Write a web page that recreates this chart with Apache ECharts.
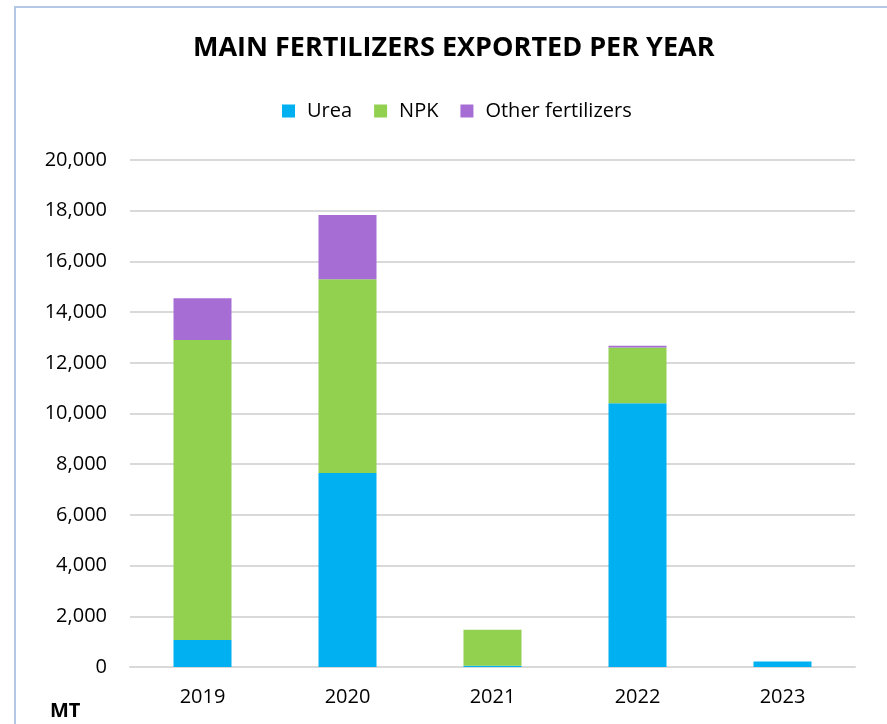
<!DOCTYPE html>
<html>
<head>
<meta charset="utf-8">
<script src="https://cdn.jsdelivr.net/npm/echarts@6/dist/echarts.min.js"></script>
<style>
html,body{margin:0;padding:0;background:#fff;}
#frame{position:absolute;left:14px;top:6px;width:900px;height:740px;border:2px solid #b4c7e7;box-sizing:border-box;}
#chart{position:absolute;left:0;top:0;width:887px;height:724px;}
</style>
</head>
<body>
<div id="frame"></div>
<div id="chart"></div>
<script>
const years = ['2019', '2020', '2021', '2022', '2023'];
const urea = [1070, 7650, 50, 10400, 220];
const npk = [11830, 7650, 1420, 2200, 0];
const other = [1650, 2530, 0, 70, 0];
const yTicks = [0, 2000, 4000, 6000, 8000, 10000, 12000, 14000, 16000, 18000, 20000];

const font = "'Open Sans', 'Noto Sans', sans-serif";
const chart = echarts.init(document.getElementById('chart'));
chart.setOption({
  animation: false,
  title: {
    text: 'MAIN FERTILIZERS EXPORTED PER YEAR',
    left: 188, top: 30,
    textStyle: {fontFamily: font, fontWeight: 'bold', fontSize: 27, color: '#000'}
  },
  legend: {
    top: 96, left: 277,
    itemWidth: 13, itemHeight: 13, itemGap: 22,
    icon: 'rect',
    textStyle: {fontFamily: font, fontSize: 20, color: '#000', padding: [0, 0, 0, 7]},
    data: ['Urea', 'NPK', 'Other fertilizers']
  },
  graphic: [{
    type: 'text', left: 50, top: 701,
    style: {text: 'MT', fontFamily: font, fontWeight: 'bold', fontSize: 20, fill: '#000'}
  }],
  grid: {left: 130, right: 32, top: 160, bottom: 57},
  xAxis: {
    type: 'category', data: years,
    axisLine: {lineStyle: {color: '#d9d9d9', width: 2}},
    axisTick: {show: false},
    axisLabel: {fontFamily: font, fontSize: 20, color: '#000', margin: 20}
  },
  yAxis: {
    type: 'value', min: 0, max: 20000, interval: 2000,
    axisLine: {show: false}, axisTick: {show: false},
    splitLine: {lineStyle: {color: '#d9d9d9', width: 2}},
    axisLabel: {fontFamily: font, fontSize: 20, color: '#000', margin: 23,
      formatter: v => v.toLocaleString('en-US')}
  },
  series: [
    {name: 'Urea', type: 'bar', stack: 's', data: urea, barWidth: '40%', itemStyle: {color: '#00B0F0'}},
    {name: 'NPK', type: 'bar', stack: 's', data: npk, itemStyle: {color: '#92D050'}},
    {name: 'Other fertilizers', type: 'bar', stack: 's', data: other, itemStyle: {color: '#A66DD4'}}
  ]
});
</script>
</body>
</html>
